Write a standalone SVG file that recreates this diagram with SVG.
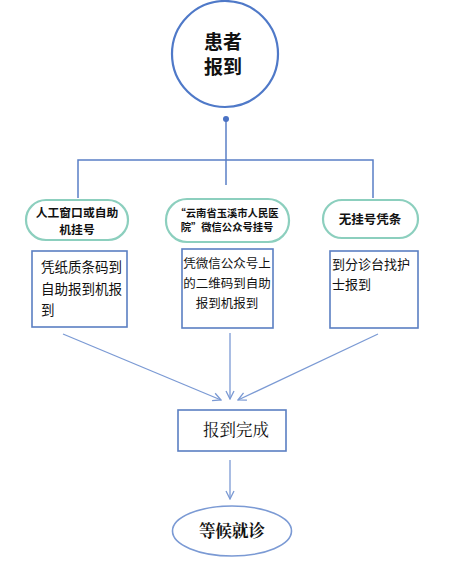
<svg xmlns="http://www.w3.org/2000/svg" width="450" height="569" viewBox="0 0 450 569">
<defs>
<style>
.ln{stroke:#5a7fc6;stroke-width:1.5;fill:none}
.ar{stroke:#7b9ad4;stroke-width:1.3;fill:none}
.pill{fill:#fff;stroke:#8ccfbe;stroke-width:2.2}
.box{fill:#fff;stroke:#5b7fc2;stroke-width:1.6}
.sans{font-family:"Noto Sans CJK SC","Noto Sans",sans-serif;fill:#111}
.b{font-weight:bold}
.serif{font-family:"Noto Serif CJK SC","Liberation Serif","Noto Sans CJK SC",serif;fill:#111}
</style>
<marker id="chev" viewBox="0 0 10 10" refX="9" refY="5" markerWidth="10" markerHeight="10" markerUnits="userSpaceOnUse" orient="auto">
<path d="M1,1 L9,5 L1,9" fill="none" stroke="#7b9ad4" stroke-width="1.3"/>
</marker>
</defs>
<rect width="450" height="569" fill="#fff"/>
<g id="connectors">
<line class="ln" x1="226" y1="119" x2="226" y2="160"/>
<circle cx="226" cy="119" r="3" fill="#4a72c4"/>
<polyline class="ln" points="78,198 78,160 373,160 373,198"/>
<line class="ln" x1="226" y1="160" x2="226" y2="185"/>
<line class="ar" x1="63" y1="334" x2="221" y2="400" marker-end="url(#chev)"/>
<line class="ar" x1="230" y1="333" x2="230" y2="399" marker-end="url(#chev)"/>
<line class="ar" x1="378" y1="334" x2="238" y2="400" marker-end="url(#chev)"/>
<line class="ar" x1="230" y1="460" x2="230" y2="499" marker-end="url(#chev)"/>
</g>
<g id="start">
<circle cx="225" cy="54" r="53" fill="#fff" stroke="#4f79c8" stroke-width="2.2"/>
<text class="sans b" x="223" y="49" font-size="19" text-anchor="middle">患者</text>
<text class="sans b" x="223" y="74" font-size="19" text-anchor="middle">报到</text>
</g>
<g id="n1">
<rect class="pill" x="26" y="200" width="102" height="40" rx="20"/>
<text class="sans b" x="77" y="217" font-size="11.8" text-anchor="middle">人工窗口或自助</text>
<text class="sans b" x="77" y="234" font-size="11.8" text-anchor="middle">机挂号</text>
</g>
<g id="n2">
<rect class="pill" x="166" y="199" width="123" height="43" rx="21"/>
<text class="sans b" x="227" y="217" font-size="10.3" text-anchor="middle">“云南省玉溪市人民医</text>
<text class="sans b" x="227" y="231" font-size="10.3" text-anchor="middle">院”微信公众号挂号</text>
</g>
<g id="n3">
<rect class="pill" x="323" y="200" width="95" height="38" rx="19"/>
<text class="sans b" x="370" y="224" font-size="12.5" text-anchor="middle">无挂号凭条</text>
</g>
<g id="b1">
<rect class="box" x="32" y="251" width="95" height="76"/>
<text class="sans" x="41" y="272" font-size="13.5">凭纸质条码到</text>
<text class="sans" x="41" y="294" font-size="13.5">自助报到机报</text>
<text class="sans" x="41" y="315" font-size="13.5">到</text>
</g>
<g id="b2">
<rect class="box" x="182" y="249" width="91" height="79"/>
<text class="sans" x="227" y="268" font-size="12.5" text-anchor="middle">凭微信公众号上</text>
<text class="sans" x="227" y="288" font-size="12.5" text-anchor="middle">的二维码到自助</text>
<text class="sans" x="227" y="308" font-size="12.5" text-anchor="middle">报到机报到</text>
</g>
<g id="b3">
<rect class="box" x="330" y="251" width="88" height="77"/>
<text class="sans" x="332" y="269" font-size="13">到分诊台找护</text>
<text class="sans" x="332" y="289" font-size="13">士报到</text>
</g>
<g id="done">
<rect class="box" x="178" y="410" width="108" height="41"/>
<text class="serif" x="236" y="436" font-size="16.5" text-anchor="middle">报到完成</text>
</g>
<g id="wait">
<ellipse cx="232" cy="531" rx="59.5" ry="25" fill="#fff" stroke="#7b9ad4" stroke-width="1.6"/>
<text class="serif b" x="232" y="537" font-size="16.5" text-anchor="middle">等候就诊</text>
</g>
</svg>
